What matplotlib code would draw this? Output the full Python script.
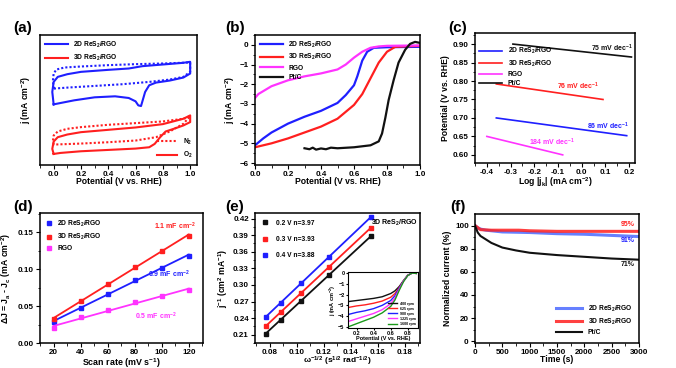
import numpy as np
import matplotlib
matplotlib.use('Agg')
import matplotlib.pyplot as plt

plt.rcParams['font.family'] = ['Liberation Sans', 'DejaVu Sans']
plt.rcParams['font.weight'] = 'bold'
plt.rcParams['axes.labelweight'] = 'bold'
plt.rcParams['mathtext.fontset'] = 'custom'
plt.rcParams['mathtext.rm'] = 'Liberation Sans:bold'
plt.rcParams['mathtext.it'] = 'Liberation Sans:bold'
plt.rcParams['mathtext.bf'] = 'Liberation Sans:bold'
plt.rcParams['mathtext.default'] = 'rm'
plt.rcParams['axes.linewidth'] = 1.1
plt.rcParams['xtick.direction'] = 'out'
plt.rcParams['ytick.direction'] = 'out'
plt.rcParams['xtick.major.size'] = 3
plt.rcParams['ytick.major.size'] = 3
plt.rcParams['xtick.minor.size'] = 1.8
plt.rcParams['ytick.minor.size'] = 1.8
plt.rcParams['xtick.major.pad'] = 1.2
plt.rcParams['ytick.major.pad'] = 1.5
plt.rcParams['xtick.labelsize'] = 5.8
plt.rcParams['ytick.labelsize'] = 5.8
plt.rcParams['axes.labelsize'] = 6.2
plt.rcParams['legend.fontsize'] = 4.8

BLUE = '#1f1fff'
RED = '#ff1f1f'
PINK = '#ff33ff'
BLACK = '#111111'
GREEN = '#1a9a1a'

# ---- (a) CV curves, arbitrary current units ----
cv_2d_o2_v = [0.0, -0.01, 0.0, 0.03, 0.1, 0.2, 0.4, 0.55, 0.65, 0.8, 0.95, 1.0, 1.0, 0.95, 0.85, 0.75, 0.7,
              0.67, 0.64, 0.62, 0.6, 0.55, 0.45, 0.3, 0.15, 0.05, 0.0]
cv_2d_o2_j = [0.13, 0.50, 0.80, 0.95, 1.03, 1.10, 1.16, 1.20, 1.27, 1.32, 1.37, 1.40, 1.05, 0.93, 0.84, 0.78, 0.70,
              0.50, 0.08, 0.10, 0.22, 0.32, 0.37, 0.34, 0.25, 0.17, 0.13]
cv_2d_n2_v = [0.0, -0.005, 0.0, 0.02, 0.08, 0.2, 0.4, 0.6, 0.8, 1.0, 1.0, 0.95, 0.85, 0.7, 0.5, 0.3, 0.1, 0.0]
cv_2d_n2_j = [0.60, 0.85, 1.05, 1.17, 1.23, 1.26, 1.30, 1.33, 1.35, 1.38, 1.10, 0.95, 0.87, 0.80, 0.73, 0.68, 0.63, 0.60]
cv_3d_o2_v = [0.0, -0.01, 0.0, 0.03, 0.1, 0.2, 0.4, 0.6, 0.8, 0.95, 1.0, 1.0, 0.95, 0.88, 0.82, 0.78, 0.74, 0.7,
              0.6, 0.4, 0.2, 0.05, 0.0]
cv_3d_o2_j = [-1.35, -1.20, -0.98, -0.85, -0.77, -0.70, -0.63, -0.56, -0.46, -0.30, -0.20, -0.40, -0.50, -0.60,
              -0.68, -0.85, -1.05, -1.15, -1.19, -1.23, -1.27, -1.32, -1.35]
cv_3d_n2_v = [0.0, -0.005, 0.0, 0.03, 0.1, 0.2, 0.4, 0.6, 0.8, 0.95, 1.0, 0.95, 0.85, 0.75, 0.6, 0.4, 0.2, 0.0]
cv_3d_n2_j = [-1.07, -0.95, -0.80, -0.68, -0.60, -0.55, -0.48, -0.43, -0.38, -0.30, -0.22, -0.45, -0.68, -0.85,
              -0.95, -1.00, -1.04, -1.07]

# ---- (b) LSV ----
lsv_rgo_v = [0.0, 0.02, 0.1, 0.2, 0.3, 0.4, 0.5, 0.55, 0.6, 0.65, 0.7, 0.75, 0.8, 1.0]
lsv_rgo_j = [-2.7, -2.5, -2.1, -1.8, -1.6, -1.45, -1.25, -1.0, -0.65, -0.35, -0.15, -0.08, -0.05, -0.03]
lsv_2d_v = [0.0, 0.05, 0.1, 0.2, 0.3, 0.4, 0.5, 0.55, 0.6, 0.62, 0.65, 0.68, 0.72, 0.8, 1.0]
lsv_2d_j = [-5.1, -4.75, -4.45, -4.0, -3.65, -3.35, -2.95, -2.55, -2.05, -1.6, -0.8, -0.35, -0.15, -0.12, -0.1]
lsv_3d_v = [0.0, 0.1, 0.2, 0.3, 0.4, 0.5, 0.6, 0.65, 0.7, 0.75, 0.8, 0.85, 0.9, 1.0]
lsv_3d_j = [-5.2, -5.0, -4.75, -4.45, -4.15, -3.75, -3.05, -2.5, -1.7, -0.9, -0.35, -0.1, -0.08, -0.05]
lsv_pt_v = [0.3, 0.33, 0.35, 0.37, 0.4, 0.43, 0.46, 0.5, 0.6, 0.7, 0.75, 0.77, 0.79, 0.81, 0.84, 0.87, 0.91,
            0.94, 0.97, 1.0]
lsv_pt_j = [-5.25, -5.3, -5.22, -5.32, -5.26, -5.3, -5.22, -5.25, -5.2, -5.1, -4.9, -4.5, -3.7, -2.8, -1.8,
            -0.9, -0.25, 0.05, 0.15, 0.1]

# ---- (c) Tafel ----
tafel_pt_x = [-0.29, 0.21]
tafel_pt_y = [0.900, 0.865]
tafel_3d_x = [-0.36, 0.09]
tafel_3d_y = [0.792, 0.750]
tafel_2d_x = [-0.36, 0.19]
tafel_2d_y = [0.700, 0.652]
tafel_rgo_x = [-0.40, -0.08]
tafel_rgo_y = [0.650, 0.600]

# ---- (d) double layer ----
scan_rate = [20, 40, 60, 80, 100, 120]
dj_2d = [0.028, 0.048, 0.067, 0.085, 0.102, 0.118]
dj_3d = [0.032, 0.057, 0.080, 0.103, 0.125, 0.145]
dj_rgo = [0.020, 0.035, 0.045, 0.055, 0.063, 0.072]

# ---- (e) K-L ----
omega = [0.077, 0.088, 0.103, 0.124, 0.155]
kl_02 = [0.212, 0.237, 0.271, 0.318, 0.388]
kl_03 = [0.225, 0.251, 0.285, 0.333, 0.403]
kl_04 = [0.242, 0.268, 0.303, 0.350, 0.423]
inset_v = [0.1, 0.2, 0.3, 0.4, 0.5, 0.6, 0.65, 0.7, 0.75, 0.8, 0.85, 0.9]
inset_400 = [-2.65, -2.55, -2.45, -2.35, -2.2, -1.9, -1.65, -1.25, -0.7, -0.2, 0.0, -0.03]
inset_625 = [-3.2, -3.05, -2.95, -2.8, -2.6, -2.25, -1.9, -1.35, -0.72, -0.2, 0.0, -0.03]
inset_900 = [-3.85, -3.65, -3.5, -3.3, -3.0, -2.55, -2.1, -1.4, -0.74, -0.21, 0.0, -0.03]
inset_1225 = [-4.5, -4.25, -4.0, -3.75, -3.4, -2.85, -2.3, -1.5, -0.76, -0.22, 0.0, -0.03]
inset_1600 = [-5.0, -4.7, -4.4, -4.1, -3.7, -3.1, -2.5, -1.6, -0.8, -0.23, 0.0, -0.03]

# ---- (f) chronoamperometry ----
time_2d = [0, 50, 100, 200, 500, 1000, 1500, 2000, 2500, 3000]
cur_2d = [100, 98, 97, 96, 94.5, 94, 93, 92.5, 91.5, 90.5]
time_3d = [0, 100, 300, 800, 1000, 1500, 2000, 2500, 3000]
cur_3d = [100, 96.5, 96, 96, 95.5, 95, 95, 95, 95]
time_pt = [0, 50, 100, 200, 300, 500, 750, 1000, 1500, 2000, 2500, 3000]
cur_pt = [100, 94, 91, 88, 85, 81, 78.5, 76.5, 74.5, 73, 71.5, 70.5]

fig = plt.figure(figsize=(6.76, 3.68), dpi=100)
W, H = 676, 368


def add_ax(x0, y0, x1, y1):
    return fig.add_axes([x0 / W, 1 - y1 / H, (x1 - x0) / W, (y1 - y0) / H])


def panel_label(x, y, s):
    fig.text(x / W, 1 - y / H, s, fontsize=11, fontweight='bold', ha='center', va='center')


# (a)
ax = add_ax(40, 35, 197, 165)
ax.plot(cv_2d_o2_v, cv_2d_o2_j, color=BLUE, lw=1.5, label='2D ReS$_2$/RGO')
ax.plot(cv_3d_o2_v, cv_3d_o2_j, color=RED, lw=1.5, label='3D ReS$_2$/RGO')
ax.plot(cv_2d_n2_v, cv_2d_n2_j, color=BLUE, lw=1.5, ls=(0, (1, 1)))
ax.plot(cv_3d_n2_v, cv_3d_n2_j, color=RED, lw=1.5, ls=(0, (1, 1)))
leg1 = ax.legend(loc='upper left', frameon=False, handlelength=3.5, borderaxespad=0.3)
ax.add_artist(leg1)
h1, = ax.plot([], [], color=RED, lw=1.5, ls=(0, (1, 1)), label='N$_2$')
h2, = ax.plot([], [], color=RED, lw=1.5, label='O$_2$')
ax.legend(handles=[h1, h2], loc='lower right', frameon=False, handlelength=3, borderaxespad=0.3)
ax.set_xlim(-0.09, 1.05)
ax.set_ylim(-1.68, 2.2)
ax.set_xticks([0.0, 0.2, 0.4, 0.6, 0.8, 1.0])
ax.set_xticks(np.arange(-0.1, 1.05, 0.1), minor=True)
ax.set_yticks([])
ax.set_xlabel('Potential (V vs. RHE)', labelpad=-0.5)
ax.set_ylabel('j (mA cm$^{-2}$)', labelpad=5)
panel_label(23, 28, '(a)')

# (b)
ax = add_ax(255, 35, 420, 165)
ax.plot(lsv_2d_v, lsv_2d_j, color=BLUE, lw=1.6, label='2D ReS$_2$/RGO')
ax.plot(lsv_3d_v, lsv_3d_j, color=RED, lw=1.6, label='3D ReS$_2$/RGO')
ax.plot(lsv_rgo_v, lsv_rgo_j, color=PINK, lw=1.6, label='RGO')
ax.plot(lsv_pt_v, lsv_pt_j, color=BLACK, lw=1.6, label='Pt/C')
ax.legend(loc='upper left', frameon=False, handlelength=3.5, borderaxespad=0.3, labelspacing=0.35)
ax.set_xlim(0, 1.0)
ax.set_ylim(-6.1, 0.5)
ax.set_xticks([0.0, 0.2, 0.4, 0.6, 0.8, 1.0])
ax.set_xticks(np.arange(0, 1.01, 0.1), minor=True)
ax.set_yticks(range(-6, 1))
ax.set_yticks(np.arange(-6, 0.6, 0.5), minor=True)
ax.set_xlabel('Potential (V vs. RHE)', labelpad=-0.5)
ax.set_ylabel('j (mA cm$^{-2}$)', labelpad=2)
panel_label(235, 28, '(b)')

# (c)
ax = add_ax(475, 33, 635, 163)
ax.plot(tafel_2d_x, tafel_2d_y, color=BLUE, lw=1.2, label='2D ReS$_2$/RGO')
ax.plot(tafel_3d_x, tafel_3d_y, color=RED, lw=1.2, label='3D ReS$_2$/RGO')
ax.plot(tafel_rgo_x, tafel_rgo_y, color=PINK, lw=1.2, label='RGO')
ax.plot(tafel_pt_x, tafel_pt_y, color=BLACK, lw=1.2, label='Pt/C')
ax.legend(loc='upper left', bbox_to_anchor=(0.0, 0.93), frameon=False, handlelength=3.5,
          labelspacing=0.35, borderaxespad=0.2)
ax.text(0.13, 0.889, '75 mV dec$^{-1}$', color=BLACK, fontsize=5, ha='center', va='center')
ax.text(-0.016, 0.785, '76 mV dec$^{-1}$', color=RED, fontsize=5, ha='center', va='center')
ax.text(0.11, 0.677, '86 mV dec$^{-1}$', color=BLUE, fontsize=5, ha='center', va='center')
ax.text(-0.127, 0.634, '184 mV dec$^{-1}$', color=PINK, fontsize=5, ha='center', va='center')
ax.set_xlim(-0.45, 0.225)
ax.set_ylim(0.578, 0.93)
ax.set_xticks(np.arange(-0.4, 0.21, 0.1))
ax.set_xticks(np.arange(-0.45, 0.23, 0.05), minor=True)
ax.set_xticklabels(['-0.4', '-0.3', '-0.2', '-0.1', '0.0', '0.1', '0.2'])
ax.set_yticks(np.arange(0.60, 0.91, 0.05))
ax.set_yticks(np.arange(0.600, 0.93, 0.025), minor=True)
ax.set_xlabel('Log |j$_k$| (mA cm$^{-2}$)', labelpad=-0.5)
ax.set_ylabel('Potential (V vs. RHE)', labelpad=2)
panel_label(458, 28, '(c)')

# (d)
ax = add_ax(40, 213, 203, 343)
for vals, col, lab in [(dj_2d, BLUE, '2D ReS$_2$/RGO'), (dj_3d, RED, '3D ReS$_2$/RGO'), (dj_rgo, PINK, 'RGO')]:
    k, b = np.polyfit(scan_rate, vals, 1)
    xs = np.array([scan_rate[0], scan_rate[-1]])
    ax.plot(xs, k * xs + b, color=col, lw=1.3)
    ax.plot(scan_rate, vals, 's', color=col, ms=2.8, label=lab)
ax.legend(loc='upper left', frameon=False, handlelength=1, borderaxespad=0.4, labelspacing=0.5)
ax.text(110, 0.158, '1.1 mF cm$^{-2}$', color=RED, fontsize=5, ha='center', va='center')
ax.text(105, 0.093, '0.9 mF cm$^{-2}$', color=BLUE, fontsize=5, ha='center', va='center')
ax.text(96, 0.036, '0.5 mF cm$^{-2}$', color=PINK, fontsize=5, ha='center', va='center')
ax.set_xlim(10.5, 130.5)
ax.set_ylim(0, 0.176)
ax.set_xticks(range(20, 121, 20))
ax.set_xticks(range(10, 131, 10), minor=True)
ax.set_yticks([0.00, 0.05, 0.10, 0.15])
ax.set_yticks(np.arange(0, 0.176, 0.025), minor=True)
ax.set_xlabel('Scan rate (mV s$^{-1}$)', labelpad=0, fontsize=6.4)
ax.set_ylabel('ΔJ = J$_a$ - J$_c$ (mA cm$^{-2}$)', labelpad=3)
panel_label(23, 207, '(d)')

# (e)
ax = add_ax(255, 213, 420, 343)
for vals, col, lab in [(kl_02, BLACK, '0.2 V n=3.97'), (kl_03, RED, '0.3 V n=3.93'), (kl_04, BLUE, '0.4 V n=3.88')]:
    k, b = np.polyfit(omega, vals, 1)
    xs = np.array([omega[0], omega[-1]])
    ax.plot(xs, k * xs + b, color=col, lw=1.3)
    ax.plot(omega, vals, 's', color=col, ms=2.8, label=lab)
ax.legend(loc='upper left', frameon=False, handlelength=1, borderaxespad=0.6, labelspacing=1.4,
          handletextpad=1.2)
ax.text(0.99, 0.96, '3D ReS$_2$/RGO', transform=ax.transAxes, fontsize=5, ha='right', va='top')
ax.set_xlim(0.069, 0.1915)
ax.set_ylim(0.1955, 0.430)
ax.set_xticks(np.arange(0.08, 0.181, 0.02))
ax.set_xticks(np.arange(0.07, 0.191, 0.01), minor=True)
ax.set_yticks([0.21, 0.24, 0.27, 0.30, 0.33, 0.36, 0.39, 0.42])
ax.set_yticks(np.arange(0.195, 0.43, 0.015), minor=True)
ax.set_xlabel('ω$^{-1/2}$ (s$^{1/2}$ rad$^{-1/2}$)', labelpad=-0.5, fontsize=6)
ax.set_ylabel('j$^{-1}$ (cm$^{2}$ mA$^{-1}$)', labelpad=2)
panel_label(235, 207, '(e)')

ins = add_ax(348, 272, 418, 328)
for vals, col, lab in [(inset_400, BLACK, '400 rpm'), (inset_625, RED, '625 rpm'), (inset_900, BLUE, '900 rpm'),
                       (inset_1225, PINK, '1225 rpm'), (inset_1600, GREEN, '1600 rpm')]:
    ins.plot(inset_v, vals, color=col, lw=1.0, label=lab)
ins.legend(loc='lower right', frameon=False, fontsize=2.6, handlelength=2.5, labelspacing=0.3,
           borderaxespad=0.2)
ins.set_xlim(0.1, 0.92)
ins.set_ylim(-5.1, 0.1)
ins.set_xticks([0.2, 0.4, 0.6, 0.8])
ins.set_yticks([0, -1, -2, -3, -4, -5])
ins.tick_params(labelsize=4, length=1.5, pad=1)
ins.set_xlabel('Potential (V vs. RHE)', fontsize=4, labelpad=0)
ins.set_ylabel('j (mA cm$^{-2}$)', fontsize=4, labelpad=0)
for s in ins.spines.values():
    s.set_linewidth(0.8)

# (f)
ax = add_ax(475, 214, 639, 343)
ax.plot(time_2d, cur_2d, color='#3355ff', lw=2.2, alpha=0.75, label='2D ReS$_2$/RGO')
ax.plot(time_3d, cur_3d, color='#ff2020', lw=2.2, alpha=0.85, label='3D ReS$_2$/RGO')
ax.plot(time_pt, cur_pt, color=BLACK, lw=1.5, label='Pt/C')
ax.legend(loc='lower right', frameon=False, handlelength=4, borderaxespad=0.6, labelspacing=0.4)
ax.text(2800, 100.6, '95%', color=RED, fontsize=5, ha='center', va='center')
ax.text(2800, 86.8, '91%', color=BLUE, fontsize=5, ha='center', va='center')
ax.text(2800, 66, '71%', color=BLACK, fontsize=5, ha='center', va='center')
ax.set_xlim(0, 3000)
ax.set_ylim(-1.5, 110)
ax.set_xticks(range(0, 3001, 500))
ax.set_xticks(range(0, 3001, 250), minor=True)
ax.set_yticks(range(0, 101, 20))
ax.set_yticks(range(0, 110, 10), minor=True)
ax.set_xlabel('Time (s)', labelpad=-0.5)
ax.set_ylabel('Normalized current (%)', labelpad=2)
panel_label(458, 207, '(f)')

fig.savefig('out.png', dpi=100)
